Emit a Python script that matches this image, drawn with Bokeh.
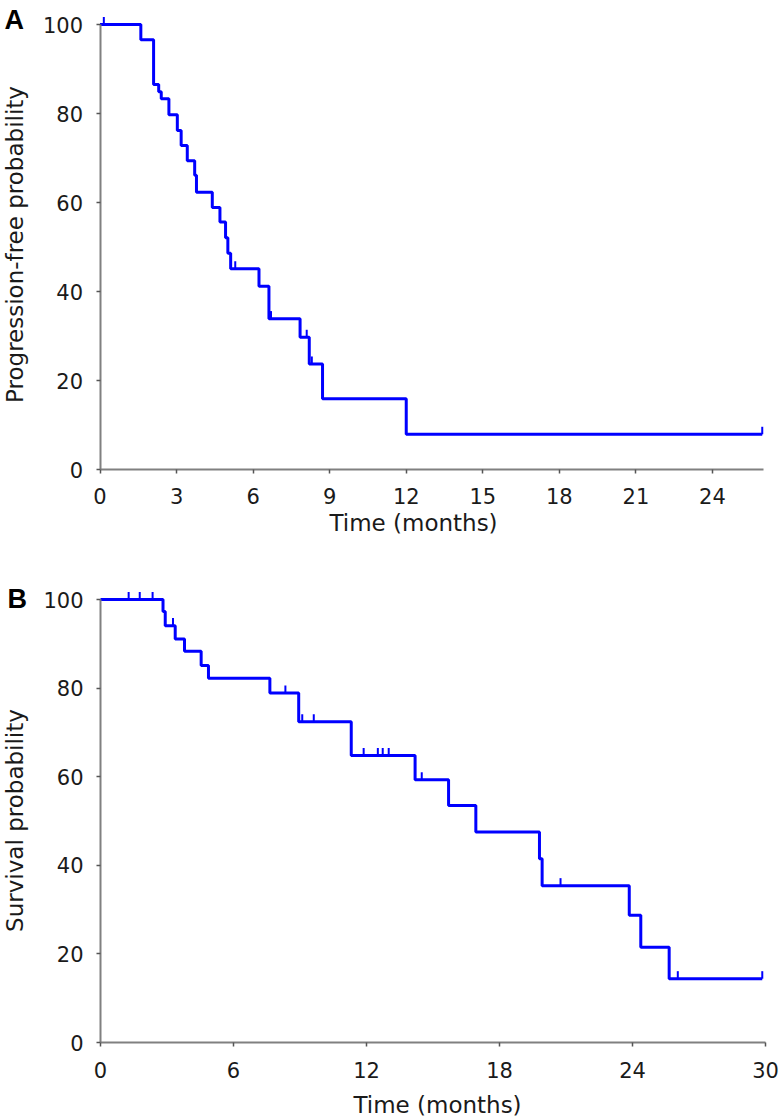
import numpy as np
from bokeh.plotting import figure
from bokeh.layouts import column
from bokeh.models import Label, FixedTicker, Range1d
from bokeh.embed import file_html
from bokeh.resources import INLINE

# ---- Panel A: progression-free probability (Kaplan-Meier) ----
pfs_times = [0, 1.6, 2.1, 2.3, 2.4, 2.7, 3.03, 3.18, 3.42, 3.71, 3.78, 4.4, 4.7,
             4.92, 5.01, 5.12, 6.23, 6.62, 7.84, 8.2, 8.72, 12.0]
pfs_surv = [100, 96.6, 86.5, 84.9, 83.3, 79.7, 76.2, 72.8, 69.4, 66.1, 62.3, 58.9,
            55.6, 52.1, 48.6, 45.1, 41.2, 33.9, 29.7, 23.7, 15.9, 7.9]
pfs_end = 25.95
pfs_censor = [0.15, 5.3, 6.7, 8.1, 8.3, 25.95]
pfs_xticks = [0, 3, 6, 9, 12, 15, 18, 21, 24]

# ---- Panel B: survival probability (Kaplan-Meier) ----
os_times = [0, 2.82, 2.92, 3.37, 3.79, 4.54, 4.87, 7.64, 8.94, 11.31, 14.19, 15.7,
            16.93, 19.8, 19.92, 23.85, 24.37, 25.65]
os_surv = [100, 97.3, 94.1, 91.1, 88.3, 85.1, 82.2, 78.9, 72.4, 64.8, 59.3, 53.5,
           47.5, 41.5, 35.4, 28.7, 21.5, 14.4]
os_end = 29.85
os_censor = [1.27, 1.77, 2.35, 3.27, 8.34, 9.1, 9.62, 11.87, 12.51, 12.73, 13.0,
             14.49, 20.75, 26.04, 29.85]
os_xticks = [0, 6, 12, 18, 24, 30]

yticks = [0, 20, 40, 60, 80, 100]

BLUE = "#0000ff"
TICK_UP = 1.7  # censor mark height (style)
FONT = "DejaVu Sans"
W = 779


def km_panel(times, surv, end, censor, xticks, xmax, ylabel, letter, H,
             x0_px, px_per_x, y0_px, px_per_y, xtick_standoff,
             ylab_xy, xlab_xy, letter_xy):
    # frame covers the whole canvas; axes are pinned at the data origin
    x_range = Range1d(-x0_px / px_per_x, (W - x0_px) / px_per_x)
    y_range = Range1d(-(H - y0_px) / px_per_y, y0_px / px_per_y)
    p = figure(width=W, height=H, output_backend="svg", toolbar_location=None,
               x_range=x_range, y_range=y_range,
               min_border_left=0, min_border_right=0,
               min_border_top=0, min_border_bottom=0)
    p.outline_line_color = None
    p.xgrid.visible = False
    p.ygrid.visible = False
    p.background_fill_color = "white"
    p.border_fill_color = "white"

    xs = list(times) + [end]
    ys = list(surv) + [surv[-1]]
    p.step(xs, ys, mode="after", line_width=3, line_color=BLUE)

    t = np.array(times)
    s = np.array(surv)
    c = np.array(censor)
    lev = s[np.searchsorted(t, c, side="right") - 1]
    p.segment(x0=c, y0=lev, x1=c, y1=lev + TICK_UP, line_width=2, line_color=BLUE)

    xa = p.xaxis[0]
    ya = p.yaxis[0]
    xa.fixed_location = 0
    ya.fixed_location = 0
    xa.ticker = FixedTicker(ticks=xticks)
    ya.ticker = FixedTicker(ticks=yticks)
    xa.bounds = (0, xmax)
    ya.bounds = (0, 100)
    for ax in (xa, ya):
        ax.axis_line_color = "#808080"
        ax.axis_line_width = 2
        ax.major_tick_line_color = "#555555"
        ax.major_tick_line_width = 1.5
        ax.major_tick_out = 4
        ax.major_tick_in = 0
        ax.minor_tick_line_color = None
        ax.major_label_text_font = FONT
        ax.major_label_text_font_size = "21px"
        ax.major_label_text_color = "#1a1a1a"
    xa.major_label_standoff = xtick_standoff
    ya.major_label_standoff = 13

    p.add_layout(Label(x=ylab_xy[0], y=H - ylab_xy[1], x_units="screen", y_units="screen",
                       text=ylabel, angle=np.pi / 2, text_font=FONT,
                       text_font_size="23px", text_color="#1a1a1a",
                       text_align="center", text_baseline="middle"))
    p.add_layout(Label(x=xlab_xy[0], y=H - xlab_xy[1], x_units="screen", y_units="screen",
                       text="Time (months)", text_font=FONT,
                       text_font_size="23px", text_color="#1a1a1a",
                       text_align="center", text_baseline="middle"))
    p.add_layout(Label(x=letter_xy[0], y=H - letter_xy[1], x_units="screen", y_units="screen",
                       text=letter, text_font="Liberation Sans", text_font_style="bold",
                       text_font_size="27px", text_color="#000000",
                       text_align="left", text_baseline="middle"))
    return p


pa = km_panel(pfs_times, pfs_surv, pfs_end, pfs_censor, pfs_xticks, 26,
              "Progression-free probability", "A", 545,
              99.5, 25.52, 469, 4.45, 14,
              (14, 244), (413, 522), (4, 19))
pb = km_panel(os_times, os_surv, os_end, os_censor, os_xticks, 30,
              "Survival probability", "B", 573,
              100, 22.17, 1042 - 545, 4.43, 15,
              (14, 820 - 545), (437, 1104 - 545), (7, 598 - 545))

layout = column(pa, pb, spacing=0)
open("out.html", "w").write(file_html(layout, INLINE))
